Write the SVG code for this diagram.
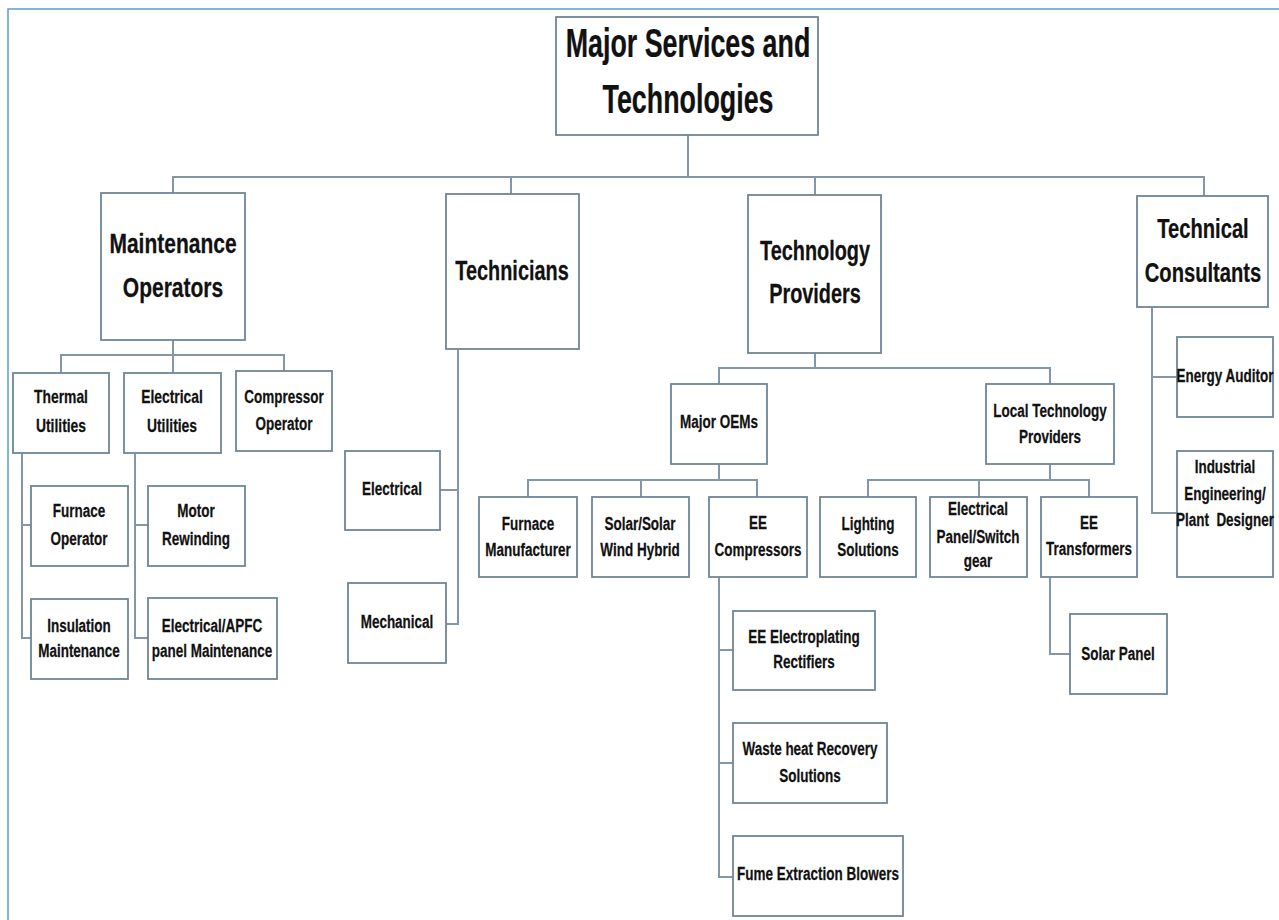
<svg xmlns="http://www.w3.org/2000/svg" width="1279" height="920" viewBox="0 0 1279 920">
<style>
.box{fill:#ffffff;stroke:#6f8597;stroke-width:1.8}
.ln{fill:none;stroke:#8497a8;stroke-width:2}
text{font-family:"Liberation Sans",Arial,sans-serif;font-weight:bold;fill:#111111;text-anchor:middle;stroke:#111111;stroke-width:0.25}
.r{font-size:41px}
.m{font-size:28px}
.s{font-size:19px}
</style>
<rect x="0" y="0" width="1279" height="920" fill="#ffffff"/>
<path d="M8,920 V9 H1279" fill="none" stroke="#5b9bd5" stroke-width="1.5"/>
<g id="connectors" class="ln">
<path d="M688,135 V177 M173,193 V177 H1204 V196 M511,177 V194 M815,177 V195"/>
<path d="M173,340 V355 M61,373 V355 H284 V371 M173,355 V373"/>
<path d="M22,453 V638 H31 M22,525 H31"/>
<path d="M135,453 V638 H148 M135,525 H148"/>
<path d="M458,349 V624 H446 M458,490 H440"/>
<path d="M815,353 V368 M719,384 V368 H1050 V384"/>
<path d="M1152,307 V513 H1177 M1152,377 H1177"/>
<path d="M719,464 V480 M528,497 V480 H757 V497 M641,480 V497"/>
<path d="M1050,464 V480 M868,497 V480 H1089 V497 M979,480 V497"/>
<path d="M719,577 V877 H733 M719,650 H733 M719,763 H733"/>
<path d="M1050,577 V654 H1070"/>
</g>
<g id="root"><rect class="box" x="556" y="17" width="262" height="118"/>
<text class="r" transform="translate(688,0) scale(0.655,1)"><tspan x="0" y="57">Major Services and</tspan><tspan x="0" y="113">Technologies</tspan></text></g>
<g id="maintenance-operators"><rect class="box" x="101" y="193" width="144" height="147"/>
<text class="m" transform="translate(173,0) scale(0.75,1)"><tspan x="0" y="253">Maintenance</tspan><tspan x="0" y="297">Operators</tspan></text></g>
<g id="technicians"><rect class="box" x="446" y="194" width="133" height="155"/>
<text class="m" transform="translate(512,0) scale(0.71,1)"><tspan x="0" y="280">Technicians</tspan></text></g>
<g id="technology-providers"><rect class="box" x="748" y="195" width="133" height="158"/>
<text class="m" transform="translate(815,0) scale(0.71,1)"><tspan x="0" y="260">Technology</tspan><tspan x="0" y="303">Providers</tspan></text></g>
<g id="technical-consultants"><rect class="box" x="1137" y="196" width="131" height="111"/>
<text class="m" transform="translate(1203,0) scale(0.72,1)"><tspan x="0" y="238">Technical</tspan><tspan x="0" y="282">Consultants</tspan></text></g>
<g id="thermal-utilities"><rect class="box" x="13" y="373" width="96" height="80"/>
<text class="s" transform="translate(61,0) scale(0.73,1)"><tspan x="0" y="403">Thermal</tspan><tspan x="0" y="432">Utilities</tspan></text></g>
<g id="electrical-utilities"><rect class="box" x="124" y="373" width="97" height="80"/>
<text class="s" transform="translate(172,0) scale(0.73,1)"><tspan x="0" y="403">Electrical</tspan><tspan x="0" y="432">Utilities</tspan></text></g>
<g id="compressor-operator"><rect class="box" x="236" y="371" width="96" height="80"/>
<text class="s" transform="translate(284,0) scale(0.71,1)"><tspan x="0" y="403">Compressor</tspan><tspan x="0" y="430">Operator</tspan></text></g>
<g id="furnace-operator"><rect class="box" x="31" y="486" width="97" height="80"/>
<text class="s" transform="translate(79,0) scale(0.71,1)"><tspan x="0" y="517">Furnace</tspan><tspan x="0" y="545">Operator</tspan></text></g>
<g id="motor-rewinding"><rect class="box" x="148" y="486" width="97" height="80"/>
<text class="s" transform="translate(196,0) scale(0.71,1)"><tspan x="0" y="517">Motor</tspan><tspan x="0" y="545">Rewinding</tspan></text></g>
<g id="insulation-maintenance"><rect class="box" x="31" y="599" width="97" height="80"/>
<text class="s" transform="translate(79,0) scale(0.71,1)"><tspan x="0" y="632">Insulation</tspan><tspan x="0" y="657">Maintenance</tspan></text></g>
<g id="apfc-panel"><rect class="box" x="148" y="598" width="129" height="81"/>
<text class="s" transform="translate(212,0) scale(0.71,1)"><tspan x="0" y="632">Electrical/APFC</tspan><tspan x="0" y="657">panel Maintenance</tspan></text></g>
<g id="tech-electrical"><rect class="box" x="345" y="451" width="95" height="79"/>
<text class="s" transform="translate(392,0) scale(0.71,1)"><tspan x="0" y="495">Electrical</tspan></text></g>
<g id="tech-mechanical"><rect class="box" x="348" y="583" width="98" height="80"/>
<text class="s" transform="translate(397,0) scale(0.71,1)"><tspan x="0" y="628">Mechanical</tspan></text></g>
<g id="major-oems"><rect class="box" x="671" y="384" width="96" height="80"/>
<text class="s" transform="translate(719,0) scale(0.71,1)"><tspan x="0" y="428">Major OEMs</tspan></text></g>
<g id="local-technology-providers"><rect class="box" x="986" y="384" width="128" height="80"/>
<text class="s" transform="translate(1050,0) scale(0.71,1)"><tspan x="0" y="417">Local Technology</tspan><tspan x="0" y="443">Providers</tspan></text></g>
<g id="energy-auditor"><rect class="box" x="1177" y="337" width="96" height="80"/>
<text class="s" transform="translate(1225,0) scale(0.71,1)"><tspan x="0" y="382">Energy Auditor</tspan></text></g>
<g id="plant-designer"><rect class="box" x="1177" y="451" width="96" height="126"/>
<text class="s" transform="translate(1225,0) scale(0.71,1)"><tspan x="0" y="473">Industrial</tspan><tspan x="0" y="500">Engineering/</tspan><tspan x="0" y="526" xml:space="preserve">Plant  Designer</tspan></text></g>
<g id="furnace-manufacturer"><rect class="box" x="479" y="497" width="98" height="80"/>
<text class="s" transform="translate(528,0) scale(0.71,1)"><tspan x="0" y="530">Furnace</tspan><tspan x="0" y="556">Manufacturer</tspan></text></g>
<g id="solar-wind"><rect class="box" x="592" y="497" width="97" height="80"/>
<text class="s" transform="translate(640,0) scale(0.71,1)"><tspan x="0" y="530">Solar/Solar</tspan><tspan x="0" y="556">Wind Hybrid</tspan></text></g>
<g id="ee-compressors"><rect class="box" x="709" y="497" width="98" height="80"/>
<text class="s" transform="translate(758,0) scale(0.71,1)"><tspan x="0" y="529">EE</tspan><tspan x="0" y="556">Compressors</tspan></text></g>
<g id="lighting-solutions"><rect class="box" x="820" y="497" width="96" height="80"/>
<text class="s" transform="translate(868,0) scale(0.71,1)"><tspan x="0" y="530">Lighting</tspan><tspan x="0" y="556">Solutions</tspan></text></g>
<g id="electrical-panel"><rect class="box" x="930" y="497" width="97" height="80"/>
<text class="s" transform="translate(978,0) scale(0.71,1)"><tspan x="0" y="515">Electrical</tspan><tspan x="0" y="543">Panel/Switch</tspan><tspan x="0" y="567">gear</tspan></text></g>
<g id="ee-transformers"><rect class="box" x="1041" y="497" width="96" height="80"/>
<text class="s" transform="translate(1089,0) scale(0.71,1)"><tspan x="0" y="529">EE</tspan><tspan x="0" y="555">Transformers</tspan></text></g>
<g id="solar-panel"><rect class="box" x="1070" y="614" width="97" height="80"/>
<text class="s" transform="translate(1118,0) scale(0.71,1)"><tspan x="0" y="660">Solar Panel</tspan></text></g>
<g id="electroplating-rectifiers"><rect class="box" x="733" y="611" width="142" height="79"/>
<text class="s" transform="translate(804,0) scale(0.71,1)"><tspan x="0" y="643">EE Electroplating</tspan><tspan x="0" y="668">Rectifiers</tspan></text></g>
<g id="waste-heat"><rect class="box" x="733" y="723" width="154" height="80"/>
<text class="s" transform="translate(810,0) scale(0.71,1)"><tspan x="0" y="755">Waste heat Recovery</tspan><tspan x="0" y="782">Solutions</tspan></text></g>
<g id="fume-extraction"><rect class="box" x="733" y="836" width="170" height="80"/>
<text class="s" transform="translate(818,0) scale(0.71,1)"><tspan x="0" y="880">Fume Extraction Blowers</tspan></text></g>
</svg>
